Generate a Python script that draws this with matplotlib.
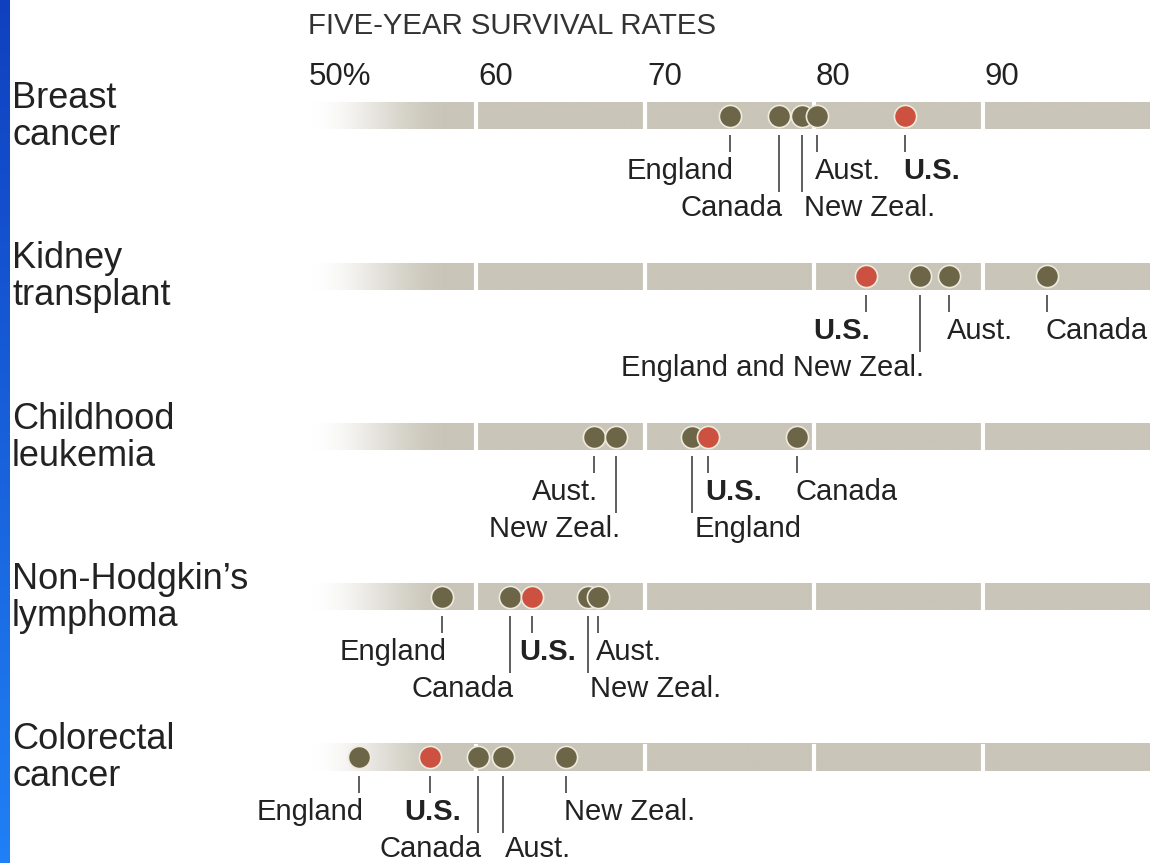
import numpy as np
import matplotlib
matplotlib.use("Agg")
import matplotlib.pyplot as plt
from matplotlib import transforms

plt.rcParams['font.family'] = ['Liberation Sans', 'DejaVu Sans']

# === Data ===
TITLE = "FIVE-YEAR SURVIVAL RATES"
TICKS = [50, 60, 70, 80, 90]
TICK_LABELS = ["50%", "60", "70", "80", "90"]

rows = [["Breast", "cancer"], ["Kidney", "transplant"], ["Childhood", "leukemia"],
        ["Non-Hodgkin\u2019s", "lymphoma"], ["Colorectal", "cancer"]]

breast_names = ["England", "Canada", "New Zeal.", "Aust.", "U.S."]
breast_vals = [75.0, 77.9, 79.3, 80.2, 85.4]

kidney_names = ["U.S.", "England and New Zeal.", "Aust.", "Canada"]
kidney_vals = [83.1, 86.3, 88.0, 93.8]

leuk_names = ["Aust.", "New Zeal.", "England", "U.S.", "Canada"]
leuk_vals = [67.0, 68.3, 72.8, 73.7, 79.0]

nhl_names = ["England", "Canada", "U.S.", "New Zeal.", "Aust."]
nhl_vals = [58.0, 62.0, 63.3, 66.6, 67.2]

colo_names = ["England", "U.S.", "Canada", "Aust.", "New Zeal."]
colo_vals = [53.1, 57.3, 60.1, 61.6, 65.3]

# label layout: (alignment, level, extra x nudge in px)
breast_lay = [("right", 1, 0), ("right", 2, 0), ("left", 2, 0), ("left", 1, 0), ("left", 1, 0)]
kidney_lay = [("right", 1, 0), ("right", 2, 0), ("left", 1, 0), ("left", 1, 0)]
leuk_lay = [("right", 1, 0), ("right", 2, 0), ("left", 2, 0), ("left", 1, 0), ("left", 1, 0)]
nhl_lay = [("right", 1, 0), ("right", 2, 0), ("left", 1, -11), ("left", 2, 0), ("left", 1, 0)]
colo_lay = [("right", 1, 0), ("center", 1, 0), ("right", 2, 0), ("left", 2, 0), ("left", 1, 0)]

groups = [(breast_names, breast_vals, breast_lay),
          (kidney_names, kidney_vals, kidney_lay),
          (leuk_names, leuk_vals, leuk_lay),
          (nhl_names, nhl_vals, nhl_lay),
          (colo_names, colo_vals, colo_lay)]

# === Style ===
BAR = np.array([201, 197, 184]) / 255
DOT = "#6d6547"
US_DOT = "#cc5140"
TXT = "#222222"
W, H = 1150, 863
PX_PER_UNIT = 16.9

fig = plt.figure(figsize=(W / 100, H / 100), dpi=100)
fig.patch.set_facecolor("white")

# blue strip at the left edge
strip = fig.add_axes([0, 0, 10 / W, 1])
grad = np.linspace(0, 1, 256)[:, None]
top = np.array([16, 64, 192]) / 255
bot = np.array([32, 128, 245]) / 255
img = top[None, None, :] * (1 - grad[:, :, None]) + bot[None, None, :] * grad[:, :, None]
strip.imshow(img, aspect="auto", extent=[0, 1, 0, 1])
strip.axis("off")

ax = fig.add_axes([307 / W, 0, (W - 307) / W, 1])
xmax = 50 + (W - 307) / PX_PER_UNIT

row_y = [116 + i * 160.3 for i in range(len(rows))]
bar_h = 27

# fading bar image
xs = np.linspace(50, 100, 600)
t = np.clip((xs - 50) / 8.5, 0, 1)
alpha = t * t * (3 - 2 * t)
bar_img = np.zeros((1, len(xs), 4))
bar_img[0, :, :3] = BAR
bar_img[0, :, 3] = alpha

lab_tr = transforms.blended_transform_factory(fig.transFigure, ax.transData)

for i, (names, vals, lay) in enumerate(groups):
    y = row_y[i]
    ax.imshow(bar_img, aspect="auto", extent=[50, 100, y + bar_h / 2, y - bar_h / 2],
              interpolation="bilinear", zorder=1)
    for g in TICKS[1:]:
        ax.vlines(g, y - bar_h / 2, y + bar_h / 2, color="white", lw=3, zorder=2)

    # draw dots left to right so the right one sits on top
    order = list(np.argsort(vals))
    for rank, k in enumerate(order):
        v, name = vals[k], names[k]
        col = US_DOT if name == "U.S." else DOT
        ax.scatter([v], [y], s=255, color=col, edgecolor="#eeeadc", linewidth=1.2,
                   zorder=3 + rank)

    for name, v, (ha, lvl, nudge) in zip(names, vals, lay):
        y1 = y + (36 if lvl == 1 else 76)
        ax.vlines(v, y + 19, y1, color="#333333", lw=1.1, zorder=3)
        dx = {"left": -2, "right": 4, "center": 2}[ha] + nudge
        if lvl == 2 and ha == "left":
            dx += 4
        ty = y + (63 if lvl == 1 else 100)
        ax.annotate(name, (v, ty), xytext=(dx, 0), textcoords="offset pixels",
                    ha=ha, va="baseline", fontsize=21, color=TXT,
                    fontweight="bold" if name == "U.S." else "normal")

    # row label
    line1, line2 = rows[i]
    ax.text(12 / W, y - 8, line1, transform=lab_tr, ha="left", va="baseline",
            fontsize=26, color=TXT)
    ax.text(12 / W, y + 29, line2, transform=lab_tr, ha="left", va="baseline",
            fontsize=26, color=TXT)

# axis labels on top
for tv, tl in zip(TICKS, TICK_LABELS):
    ax.annotate(tl, (tv, 85), xytext=(2, 0), textcoords="offset pixels",
                ha="left", va="baseline", fontsize=22.5, color=TXT)
ax.annotate(TITLE, (50, 34), xytext=(1, 0), textcoords="offset pixels",
            ha="left", va="baseline", fontsize=21.2, color="#333333")

ax.set_xlim(50, xmax)
ax.set_ylim(H, 0)
ax.axis("off")

fig.savefig("out.png", dpi=100)
